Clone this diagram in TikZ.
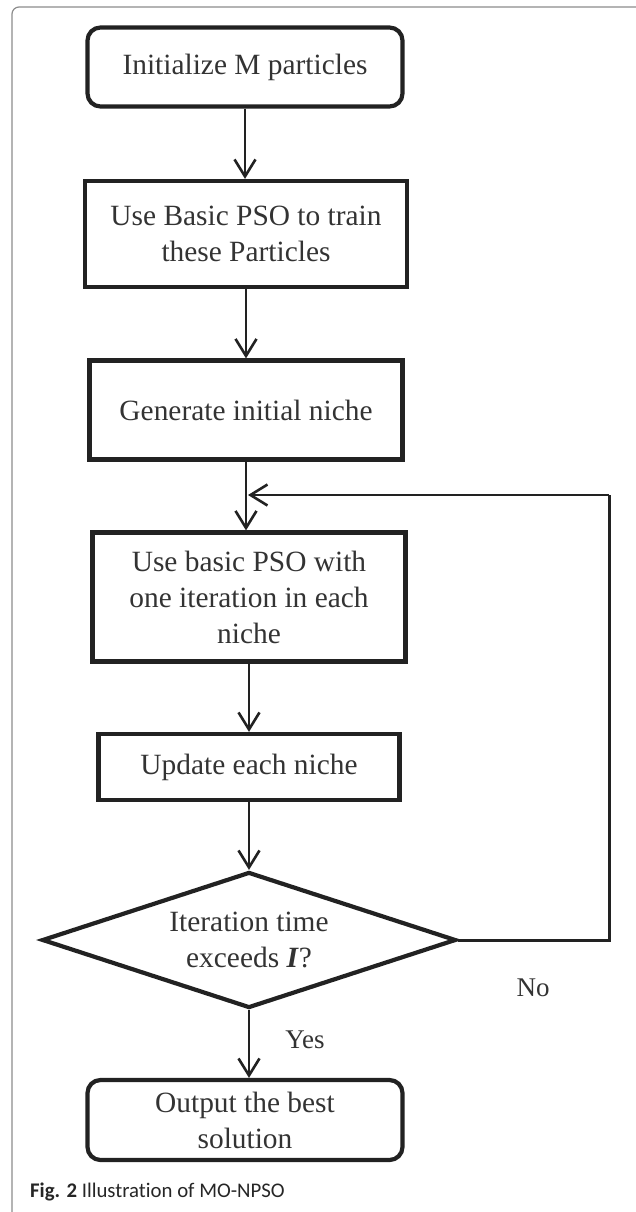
\documentclass[tikz,border=0pt]{standalone}
\usepackage{fontspec}
\setmainfont{Liberation Serif}
\newfontfamily\capfont[Ligatures=NoCommon]{Carlito}
\usetikzlibrary{arrows.meta,shapes.geometric}
\definecolor{ink}{HTML}{222222}
\definecolor{txt}{HTML}{333333}
\definecolor{framecol}{HTML}{8C8C8C}
\tikzset{
  boxfont/.style={font=\fontsize{29.4pt}{36pt}\selectfont, text=txt, align=center},
  procbox/.style={draw=ink, line width=4.2pt, inner sep=0pt, boxfont},
  termbox/.style={procbox, rounded corners=13pt},
  decbox/.style={draw=ink, line width=4.2pt, inner sep=0pt, boxfont, diamond, shape aspect=3},
  arr/.style={draw=ink, line width=2.6pt, -{Straight Barb[length=17pt,width=21pt,line width=2.6pt]}},
  loopline/.style={draw=ink, line width=3pt},
  lbl/.style={font=\fontsize{27pt}{32pt}\selectfont, text=txt, inner sep=0pt}
}
\begin{document}
\begin{tikzpicture}[x=1pt,y=-1pt]
\useasboundingbox (0,0) rectangle (635,1212);
\draw[framecol, line width=1.2pt, rounded corners=7pt] (12,1212) -- (12,7) -- (636,7);

\node[termbox, minimum width=315pt, minimum height=79pt] (b1) at (245,67) {Initialize M particles};
\node[procbox, minimum width=322pt, minimum height=106pt] (b2) at (246,234) {Use Basic PSO to train\\these Particles};
\node[procbox, minimum width=313pt, minimum height=99pt] (b3) at (246,410) {Generate initial niche};
\node[procbox, minimum width=313pt, minimum height=129pt] (b4) at (249,597) {Use basic PSO with\\one iteration in each\\niche};
\node[procbox, minimum width=301pt, minimum height=66pt] (b5) at (249,767) {Update each niche};
\node[decbox, minimum width=414pt, minimum height=136pt] (d) at (249,940) {Iteration time\\exceeds \textbf{\textit{I}}?};
\node[termbox, minimum width=315pt, minimum height=80pt] (b6) at (245,1120) {Output the best\\solution};

\coordinate (cr) at (609,940);
\coordinate (tr) at (609,495);

\draw[arr] (b1.south) -- (b1.south |- b2.north);
\draw[arr] (b2.south) -- (b2.south |- b3.north);
\draw[arr] (b3.south) -- (b3.south |- b4.north);
\draw[arr] (b4.south) -- (b4.south |- b5.north);
\draw[arr] (b5.south) -- (b5.south |- d.north);
\draw[arr] (d.south) -- (d.south |- b6.north);
\draw[loopline] (d.east) -- (cr) -- (tr);
\draw[arr] (tr) -- ([xshift=2pt]b3.south |- tr);

\node[lbl] (no) at (533,988) {No};
\node[lbl] (yes) at (305,1040) {Yes};

\node[anchor=base west, inner sep=0pt, text=black!85, font=\fontsize{20.8pt}{24pt}\capfont] (cap) at (30,1197) {\textbf{Fig. 2} Illustration of MO-NPSO};
\end{tikzpicture}
\end{document}
